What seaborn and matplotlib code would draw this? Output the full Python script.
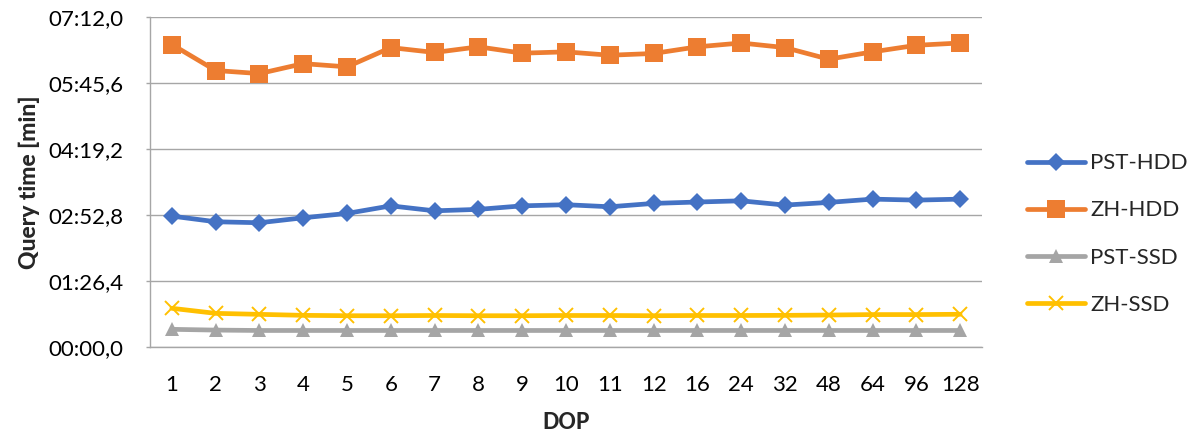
import matplotlib
matplotlib.use("Agg")
import matplotlib.pyplot as plt
from matplotlib.ticker import FuncFormatter, FixedLocator
import numpy as np
import pandas as pd
import seaborn as sns

# Degree of parallelism (category axis)
dop = ["1", "2", "3", "4", "5", "6", "7", "8", "9", "10", "11", "12",
       "16", "24", "32", "48", "64", "96", "128"]

# Query times in seconds
pst_hdd = [171.6, 164.2, 162.9, 169.4, 175.1, 185.0, 178.5, 180.4, 185.0, 186.5,
           183.8, 188.2, 190.0, 191.6, 186.0, 189.5, 193.8, 192.5, 193.8]
zh_hdd = [396.0, 362.0, 358.0, 371.0, 366.8, 392.0, 385.6, 393.0, 384.7, 386.4,
          382.0, 384.3, 393.0, 398.0, 392.0, 376.8, 386.4, 395.0, 398.0]
pst_ssd = [23.5, 22.5, 22.0, 22.0, 22.0, 22.0, 22.0, 22.0, 22.0, 22.0,
           22.0, 22.0, 22.0, 22.0, 22.0, 22.0, 22.0, 22.0, 22.0]
zh_ssd = [51.0, 44.4, 43.1, 41.8, 41.3, 41.3, 41.6, 41.3, 41.3, 41.6,
          41.6, 41.3, 41.6, 41.6, 41.8, 42.2, 42.8, 42.8, 43.2]

y_ticks = [0, 86.4, 172.8, 259.2, 345.6, 432.0]

series = [
    ("PST-HDD", pst_hdd, "#4472C4", "D", 9.5, 0),
    ("ZH-HDD", zh_hdd, "#ED7D31", "s", 13, 0),
    ("PST-SSD", pst_ssd, "#A5A5A5", "^", 10, 0),
    ("ZH-SSD", zh_ssd, "#FFC000", "x", 10, 1.4),
]

sns.set_theme(style="white")
plt.rcParams["font.family"] = ["Lato", "DejaVu Sans"]

fig = plt.figure(figsize=(11.88, 4.36), dpi=100)
ax = fig.add_axes([150 / 1188, 1 - 347.3 / 436, (982 - 150) / 1188, (347.3 - 17) / 436])

x_pos = np.arange(len(dop))
for name, vals, color, marker, ms, mew in series:
    df = pd.DataFrame({"pos": x_pos, "t": vals})
    sns.lineplot(data=df, x="pos", y="t", ax=ax, color=color, linewidth=3.4,
                 marker=marker, markersize=ms, label=name, markeredgecolor=color,
                 markeredgewidth=mew, solid_capstyle="round")

ax.set_xlim(-0.5, len(dop) - 0.5)
ax.set_ylim(0, 432)
ax.yaxis.set_major_locator(FixedLocator(y_ticks))


def fmt_time(v, _):
    m = int(v // 60)
    s = v - 60 * m
    return f"{m:02d}:{s:04.1f}".replace(".", ",")


ax.yaxis.set_major_formatter(FuncFormatter(fmt_time))
ax.set_xticks(x_pos)
ax.set_xticklabels(dop)

ax.grid(axis="y", color="#A6A6A6", linewidth=1.0)
ax.grid(axis="x", visible=False)
for side in ["top", "right"]:
    ax.spines[side].set_visible(False)
for side in ["left", "bottom"]:
    ax.spines[side].set_color("#A6A6A6")
    ax.spines[side].set_linewidth(1.0)

ax.tick_params(axis="y", which="major", left=True, length=3, width=1.0,
               color="#A6A6A6", labelsize=16, pad=16, labelcolor="#000000")
ax.tick_params(axis="x", which="major", bottom=False, labelsize=16, pad=14,
               labelcolor="#000000")

ax.set_xlabel("DOP", fontsize=15.5, fontweight=900, labelpad=12)
ax.set_ylabel("Query time [min]", fontsize=16.5, fontweight=900, labelpad=6)

handles, labels = ax.get_legend_handles_labels()
fig.legend(handles=handles, labels=labels,
           loc="center left", bbox_to_anchor=(1027 / 1188, 1 - 234 / 436),
           bbox_transform=fig.transFigure, frameon=False, fontsize=16,
           borderaxespad=0, borderpad=0, handlelength=2.6, handletextpad=0.25,
           labelspacing=1.22)
ax.get_legend().remove()

fig.savefig("out.png", dpi=100)
